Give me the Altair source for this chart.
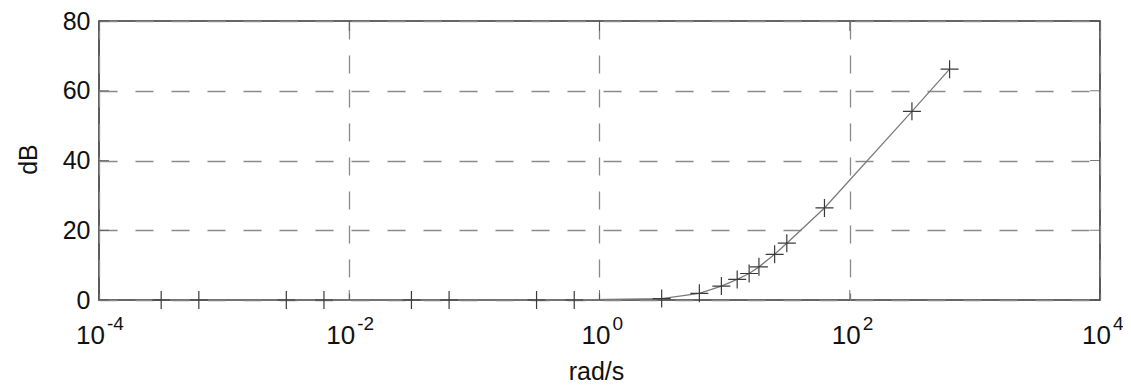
import altair as alt
import pandas as pd

# Data
freq = [0.000314, 0.000628, 0.00314, 0.00628, 0.0314, 0.0628, 0.314, 0.628,
        3.14, 6.28, 9.42, 12.6, 15.7, 18.8, 25.1, 31.4, 62.8, 314, 628]
gain_db = [0, 0, 0, 0, 0, 0, 0, 0,
           0.4, 1.9, 4.0, 5.9, 7.6, 9.5, 13.1, 16.3, 26.4, 54.1, 66.2]

x_tick_values = [1e-4, 1e-2, 1, 1e2, 1e4]
x_tick_exponents = ["-4", "-2", "0", "2", "4"]
y_tick_values = [0, 20, 40, 60, 80]

df = pd.DataFrame({"w": freq, "db": gain_db})
xt = pd.DataFrame({"v": x_tick_values, "e": x_tick_exponents,
                   "neg": [e.startswith("-") for e in x_tick_exponents]})
yt = pd.DataFrame({"v": y_tick_values})

FONT = "Liberation Sans"
TXT = "#111111"

xscale = alt.Scale(type="log", domain=[1e-4, 1e4], nice=False)
yscale = alt.Scale(domain=[0, 80], nice=False)

xaxis = alt.Axis(values=x_tick_values, labels=False, ticks=False, domain=False,
                 grid=True, gridDash=[18, 16], gridColor="#8a8a8a", gridWidth=1.3,
                 title="rad/s", titleFontSize=25, titleFont=FONT,
                 titleFontWeight="normal", titleColor=TXT,
                 titleX=497, titleY=71, titleBaseline="middle")
yaxis = alt.Axis(values=y_tick_values, ticks=False, domain=False,
                 labelFontSize=25, labelFont=FONT, labelColor=TXT, labelPadding=9,
                 grid=True, gridDash=[18, 18], gridColor="#8a8a8a", gridWidth=1.3,
                 title="dB", titleFontSize=25, titleFont=FONT,
                 titleFontWeight="normal", titleColor=TXT, titleAngle=270,
                 titleX=-71, titleY=138, titleBaseline="middle", titleAlign="center")

X = alt.X("w:Q", scale=xscale, axis=xaxis)
Y = alt.Y("db:Q", scale=yscale, axis=yaxis)

line = alt.Chart(df).mark_line(color="#7a7a7a", strokeWidth=1.3).encode(x=X, y=Y)
pts = alt.Chart(df).mark_point(shape="M-1,0L1,0M0,-1L0,1", size=324, filled=False,
                               color="#3a3a3a", strokeWidth=1.2, opacity=1).encode(x=X, y=Y)

XT = alt.X("v:Q", scale=xscale, axis=xaxis)
Y0 = alt.datum(0, scale=yscale, axis=yaxis)
Y80 = alt.datum(80, scale=yscale, axis=yaxis)

ticks_bottom = alt.Chart(xt).mark_tick(orient="vertical", size=10, thickness=1,
                                       yOffset=-5, color="#444").encode(x=XT, y=Y0)
ticks_top = alt.Chart(xt).mark_tick(orient="vertical", size=10, thickness=1,
                                    yOffset=5, color="#444").encode(x=XT, y=Y80)

YT = alt.Y("v:Q", scale=yscale, axis=yaxis)
XL = alt.datum(1e-4, scale=xscale, axis=xaxis)
XR = alt.datum(1e4, scale=xscale, axis=xaxis)
ticks_left = alt.Chart(yt).mark_tick(orient="horizontal", size=10, thickness=1,
                                     xOffset=5, color="#444").encode(x=XL, y=YT)
ticks_right = alt.Chart(yt).mark_tick(orient="horizontal", size=10, thickness=1,
                                      xOffset=-5, color="#444").encode(x=XR, y=YT)

base_neg = alt.Chart(xt).transform_filter("datum.neg")
base_pos = alt.Chart(xt).transform_filter("!datum.neg")

ten_neg = base_neg.mark_text(text="10", align="right", baseline="middle", dx=6, dy=36,
                             fontSize=26, font=FONT, color=TXT).encode(x=XT, y=Y0)
exp_neg = base_neg.mark_text(align="left", baseline="middle", dx=8, dy=24,
                             fontSize=19, font=FONT, color=TXT).encode(x=XT, y=Y0, text="e:N")
ten_pos = base_pos.mark_text(text="10", align="right", baseline="middle", dx=11, dy=36,
                             fontSize=26, font=FONT, color=TXT).encode(x=XT, y=Y0)
exp_pos = base_pos.mark_text(align="left", baseline="middle", dx=13, dy=24,
                             fontSize=19, font=FONT, color=TXT).encode(x=XT, y=Y0, text="e:N")

chart = alt.layer(
    line, ticks_bottom, ticks_top, ticks_left, ticks_right, pts,
    ten_neg, exp_neg, ten_pos, exp_pos
).properties(
    width=1001, height=279,
    autosize=alt.AutoSizeParams(type="none"),
    padding={"left": 91, "top": 13, "right": 23, "bottom": 84},
    background="white",
).configure_view(stroke="#333333", strokeWidth=1.6)

chart.save("out.html", embed_options={"renderer": "svg", "actions": False})
